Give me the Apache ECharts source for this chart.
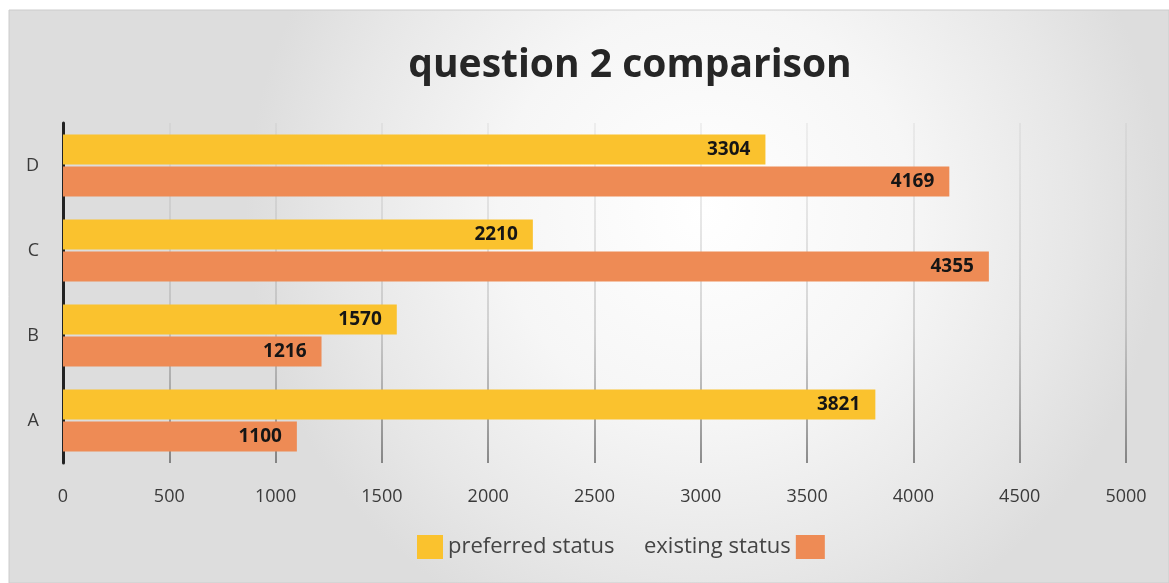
<!DOCTYPE html>
<html>
<head>
<meta charset="utf-8">
<script src="https://cdn.jsdelivr.net/npm/echarts@6/dist/echarts.min.js"></script>
<style>
html,body{margin:0;padding:0;background:#fff;}
#main{width:1169px;height:583px;}
</style>
</head>
<body>
<div id="main"></div>
<script>
const categories = ['A', 'B', 'C', 'D'];
const preferredStatus = [3821, 1570, 2210, 3304];
const existingStatus = [1100, 1216, 4355, 4169];
const seriesNames = ['preferred status', 'existing status'];
const titleText = 'question 2 comparison';

const chart = echarts.init(document.getElementById('main'));
const labelStyle = {
  show: true,
  position: 'insideRight',
  distance: 15,
  color: '#151515',
  fontWeight: 'bold',
  fontSize: 19,
  fontFamily: 'Open Sans'
};
chart.setOption({
  backgroundColor: '#fff',
  graphic: [{
    type: 'rect',
    z: -10,
    silent: true,
    shape: {x: 9, y: 10, width: 1160, height: 573},
    style: {
      fill: new echarts.graphic.RadialGradient(0.6, 0.35, 0.8, [
        {offset: 0, color: '#ffffff'},
        {offset: 0.45, color: '#f6f6f6'},
        {offset: 0.8, color: '#e7e7e7'},
        {offset: 1, color: '#dddddd'}
      ]),
      stroke: '#cccccc',
      lineWidth: 1
    }
  }],
  title: {
    text: titleText,
    left: 625,
    textAlign: 'center',
    top: 41,
    textStyle: {fontFamily: 'Open Sans', fontWeight: 'bold', fontSize: 39, color: '#262626'}
  },
  legend: [{
    data: [seriesNames[0]],
    left: 412,
    top: 530,
    align: 'left',
    itemWidth: 26,
    itemHeight: 24,
    itemGap: 10,
    textStyle: {fontFamily: 'Open Sans', fontSize: 22, color: '#444'},
    icon: 'rect'
  }, {
    data: [seriesNames[1]],
    left: 639,
    top: 530,
    align: 'right',
    itemWidth: 29,
    itemHeight: 24,
    textStyle: {fontFamily: 'Open Sans', fontSize: 22, color: '#444'},
    icon: 'rect'
  }],
  grid: {left: 63, right: 43, top: 123, height: 340, containLabel: false},
  xAxis: {
    type: 'value',
    min: 0,
    max: 5000,
    interval: 500,
    axisLine: {show: false},
    axisTick: {show: false},
    axisLabel: {fontFamily: 'Open Sans', fontSize: 18, color: '#3a3a3a', margin: 25, formatter: v => String(v)},
    splitLine: {
      show: true,
      lineStyle: {
        width: 1.5,
        color: new echarts.graphic.LinearGradient(0, 123, 0, 463, [
          {offset: 0, color: 'rgba(170,170,170,0.2)'},
          {offset: 0.6, color: 'rgba(140,140,140,0.45)'},
          {offset: 1, color: 'rgba(80,80,80,0.85)'}
        ], true)
      }
    }
  },
  yAxis: {
    type: 'category',
    data: categories,
    axisLine: {show: true, lineStyle: {color: '#222', width: 3}},
    axisTick: {show: false},
    axisLabel: {fontFamily: 'Open Sans', fontSize: 18, color: '#3a3a3a', margin: 24}
  },
  series: [{
    name: seriesNames[0],
    type: 'bar',
    data: preferredStatus,
    barWidth: 30,
    barGap: '7%',
    itemStyle: {color: '#FAC22E'},
    label: labelStyle
  }, {
    name: seriesNames[1],
    type: 'bar',
    data: existingStatus,
    barWidth: 30,
    barGap: '7%',
    itemStyle: {color: '#EE8B55'},
    label: labelStyle
  }]
});
</script>
</body>
</html>
